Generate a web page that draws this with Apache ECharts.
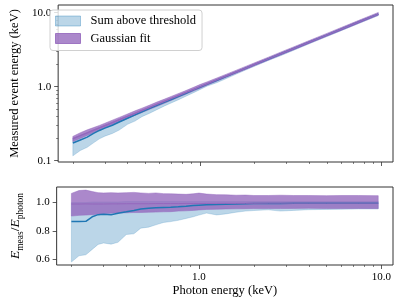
<!DOCTYPE html>
<html>
<head>
<meta charset="utf-8">
<script src="https://cdn.jsdelivr.net/npm/echarts@6/dist/echarts.min.js"></script>
<style>
html,body{margin:0;padding:0;background:#fff;}
#chart{width:399px;height:301px;}
</style>
</head>
<body>
<div id="chart"></div>
<script>
// Photon energies (keV)
var energy = [0.2,0.22,0.24,0.26,0.28,0.3,0.33,0.36,0.4,0.44,0.48,0.53,0.58,0.64,0.7,0.77,0.85,0.93,1.0,1.1,1.25,1.4,1.6,1.8,2.0,2.4,2.8,3.3,4.0,5.0,6.0,7.5,9.6];
// Sum above threshold: ratio E_meas/E_photon (lower bound, median, upper bound)
var sumLow = [0.581,0.625,0.632,0.67,0.705,0.715,0.707,0.72,0.775,0.78,0.82,0.827,0.843,0.86,0.866,0.875,0.888,0.9,0.912,0.926,0.913,0.92,0.932,0.94,0.944,0.949,0.94,0.945,0.95,0.952,0.953,0.955,0.955];
var sumMed = [0.866,0.867,0.868,0.9,0.915,0.918,0.914,0.925,0.935,0.945,0.955,0.96,0.963,0.966,0.967,0.97,0.975,0.98,0.982,0.984,0.986,0.988,0.99,0.992,0.993,0.994,0.994,0.995,0.996,0.996,0.996,0.996,0.996];
var sumHigh = [1.0,1.0,1.0,1.005,1.005,1.005,1.005,1.005,1.008,1.008,1.008,1.008,1.008,1.008,1.008,1.008,1.008,1.008,1.008,1.008,1.008,1.008,1.008,1.008,1.008,1.008,1.008,1.008,1.008,1.008,1.008,1.008,1.008];
// Gaussian fit: ratio (lower, centre, upper)
var gaussLow = [0.905,0.91,0.912,0.915,0.918,0.922,0.925,0.927,0.928,0.93,0.93,0.932,0.933,0.935,0.936,0.94,0.942,0.945,0.948,0.952,0.953,0.955,0.956,0.957,0.958,0.958,0.958,0.959,0.96,0.958,0.958,0.959,0.958];
var gaussMid = [0.99,0.99,0.991,0.99,0.99,0.99,0.991,0.991,0.992,0.992,0.992,0.992,0.993,0.993,0.993,0.993,0.994,0.994,0.994,0.994,0.995,0.995,0.995,0.995,0.995,0.996,0.996,0.996,0.996,0.996,0.996,0.996,0.996];
var gaussHigh = [1.065,1.085,1.088,1.078,1.07,1.068,1.07,1.068,1.07,1.072,1.068,1.065,1.068,1.063,1.062,1.06,1.058,1.062,1.067,1.06,1.056,1.055,1.052,1.053,1.05,1.05,1.052,1.05,1.05,1.049,1.05,1.05,1.049];
// Tick values
var xMajor = [1, 10];
var xMinor = [0.2,0.3,0.4,0.5,0.6,0.7,0.8,0.9,2,3,4,5,6,7,8,9];
var yTopMajor = [0.1, 1, 10];
var yTopMinor = [0.2,0.3,0.4,0.5,0.6,0.7,0.8,0.9,2,3,4,5,6,7,8,9];
var yBotMajor = [0.6, 0.8, 1.0];

var FONT = 'Liberation Serif';
var BLUE = '#1f77b4', PURPLE = '#9467bd';
var BLUE_FILL = 'rgba(31,119,180,0.3)', PURPLE_FILL = 'rgba(148,103,189,0.78)';

function pairs(fn) { return energy.map(function (e, i) { return [e, fn(e, i)]; }); }

var X_MIN = 0.166, X_MAX = 11.57;
function xAxisPair(grid, withLabels) {
  return [
    { gridIndex: grid, type: 'log', logBase: 10, min: X_MIN, max: X_MAX, position: 'bottom',
      axisLine: { show: false }, splitLine: { show: false },
      axisTick: { show: true, customValues: xMajor, length: 4, lineStyle: { color: '#333', width: 0.8 } },
      axisLabel: withLabels ? { show: true, customValues: xMajor, fontFamily: FONT, fontSize: 11, color: '#000', margin: 7,
        formatter: function (v) { return Number(v).toFixed(1); } } : { show: false },
      name: withLabels ? 'Photon energy (keV)' : '', nameLocation: 'middle', nameGap: 19,
      nameTextStyle: { fontFamily: FONT, fontSize: 12.5, color: '#000' } },
    { gridIndex: grid, type: 'log', logBase: 10, min: X_MIN, max: X_MAX, position: 'bottom',
      axisLine: { show: false }, splitLine: { show: false },
      axisTick: { show: true, customValues: xMinor, length: 2, lineStyle: { color: '#333', width: 0.6 } },
      axisLabel: { show: false } }
  ];
}

var xAxes = xAxisPair(0, false).concat(xAxisPair(1, true));

var yAxes = [
  { gridIndex: 0, type: 'log', logBase: 10, min: 0.096, max: 12.7, position: 'left',
    axisLine: { show: false }, splitLine: { show: false },
    axisTick: { show: true, customValues: yTopMajor, length: 4, lineStyle: { color: '#333', width: 0.8 } },
    axisLabel: { show: true, customValues: yTopMajor, fontFamily: FONT, fontSize: 11, color: '#000', margin: 7,
      formatter: function (v) { return Number(v).toFixed(1); } },
    name: 'Measured event energy (keV)', nameLocation: 'middle', nameGap: 27,
    nameTextStyle: { fontFamily: FONT, fontSize: 12.5, color: '#000' } },
  { gridIndex: 0, type: 'log', logBase: 10, min: 0.096, max: 12.7, position: 'left',
    axisLine: { show: false }, splitLine: { show: false },
    axisTick: { show: true, customValues: yTopMinor, length: 2, lineStyle: { color: '#333', width: 0.6 } },
    axisLabel: { show: false } },
  { gridIndex: 1, type: 'value', min: 0.56, max: 1.11, position: 'left',
    axisLine: { show: false }, splitLine: { show: false },
    axisTick: { show: true, customValues: yBotMajor, length: 4, lineStyle: { color: '#333', width: 0.8 } },
    axisLabel: { show: true, customValues: yBotMajor, fontFamily: FONT, fontSize: 11, color: '#000', margin: 7,
      formatter: function (v) { return Number(v).toFixed(1); } },
    name: '{e|E}{s|meas}{n|/}{e|E}{s|photon}', nameLocation: 'middle', nameGap: 24,
    nameTextStyle: { fontFamily: FONT, color: '#000',
      rich: {
        e: { fontFamily: FONT, fontStyle: 'italic', fontSize: 13.5, color: '#000', verticalAlign: 'bottom', lineHeight: 18, padding: [0, 0, 3, 0] },
        n: { fontFamily: FONT, fontSize: 13.5, color: '#000', verticalAlign: 'bottom', lineHeight: 18, padding: [0, 0, 3, 0] },
        s: { fontFamily: FONT, fontSize: 9.5, color: '#000', verticalAlign: 'bottom', lineHeight: 18 }
      } } }
];

// Band: one polygon through the library's coordinate system (upper edge, then lower edge reversed)
function bandSeries(xi, yi, name, low, high, fill, edge, scale) {
  return {
    type: 'custom', name: name, xAxisIndex: xi, yAxisIndex: yi, silent: true, clip: true,
    itemStyle: { color: fill },
    encode: { x: 0, y: [1, 2] },
    data: energy.map(function (e, i) { return [e, scale(e) * low[i], scale(e) * high[i]]; }),
    renderItem: function (params, api) {
      if (params.dataIndexInside !== 0) return null;
      var n = params.dataInsideLength, top = [], bot = [];
      for (var i = 0; i < n; i++) {
        var x = api.value(0, i);
        top.push(api.coord([x, api.value(2, i)]));
        bot.push(api.coord([x, api.value(1, i)]));
      }
      return { type: 'polygon', shape: { points: top.concat(bot.reverse()) },
        style: { fill: fill, stroke: edge, lineWidth: 0.8, lineJoin: 'round' } };
    }
  };
}
function lineSeries(xi, yi, color, width, vals, scale) {
  return { type: 'line', xAxisIndex: xi, yAxisIndex: yi, symbol: 'none', silent: true,
    lineStyle: { color: color, width: width }, itemStyle: { color: color },
    data: pairs(function (e, i) { return scale(e) * vals[i]; }) };
}
var measured = function (e) { return e; };
var ratio = function () { return 1; };
var BLUE_EDGE = 'rgba(31,119,180,0.25)', PURPLE_EDGE = 'rgba(148,103,189,0.6)';

var series = [
  bandSeries(0, 0, 'Sum above threshold', sumLow, sumHigh, BLUE_FILL, BLUE_EDGE, measured),
  lineSeries(0, 0, BLUE, 1.5, sumMed, measured),
  bandSeries(0, 0, 'Gaussian fit', gaussLow, gaussHigh, PURPLE_FILL, PURPLE_EDGE, measured),
  lineSeries(0, 0, PURPLE, 1.5, gaussMid, measured),
  bandSeries(2, 2, 'Sum above threshold', sumLow, sumHigh, BLUE_FILL, BLUE_EDGE, ratio),
  lineSeries(2, 2, BLUE, 1.5, sumMed, ratio),
  bandSeries(2, 2, 'Gaussian fit', gaussLow, gaussHigh, PURPLE_FILL, PURPLE_EDGE, ratio),
  lineSeries(2, 2, PURPLE, 1, gaussMid, ratio)
];

var chart = echarts.init(document.getElementById('chart'), null, { renderer: 'canvas' });
chart.setOption({
  animation: false,
  backgroundColor: '#fff',
  grid: [
    { left: 44, top: 5, width: 349, height: 157, show: true, borderColor: '#333', borderWidth: 1, backgroundColor: 'transparent' },
    { left: 44, top: 187, width: 349, height: 78, show: true, borderColor: '#333', borderWidth: 1, backgroundColor: 'transparent' }
  ],
  legend: {
    orient: 'vertical', left: 50, top: 10, padding: [4, 6, 5, 5], itemGap: 3.5,
    itemWidth: 25, itemHeight: 10, selectedMode: false,
    backgroundColor: 'rgba(255,255,255,0.8)', borderColor: '#d0d0d0', borderWidth: 1, borderRadius: 3,
    textStyle: { fontFamily: FONT, fontSize: 12.5, color: '#000', padding: [0, 0, 0, 5], lineHeight: 14 },
    data: [
      { name: 'Sum above threshold', icon: 'rect', itemStyle: { color: BLUE_FILL, borderColor: 'rgba(31,119,180,0.35)', borderWidth: 1 } },
      { name: 'Gaussian fit', icon: 'rect', itemStyle: { color: PURPLE_FILL, borderColor: 'rgba(148,103,189,0.85)', borderWidth: 1 } }
    ]
  },
  xAxis: xAxes,
  yAxis: yAxes,
  series: series
});
</script>
</body>
</html>
